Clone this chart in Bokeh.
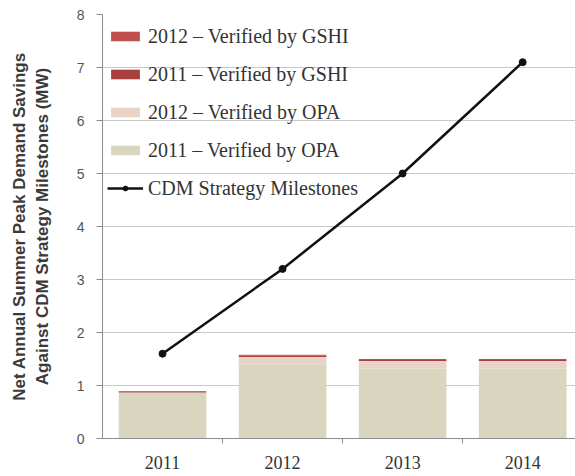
from bokeh.plotting import figure
from bokeh.models import (ColumnDataSource, FixedTicker, Legend, LegendItem, Range1d)
from bokeh.embed import file_html
from bokeh.resources import INLINE

# Net annual summer peak demand savings (MW), stacked by source
years = [2011, 2012, 2013, 2014]
year_labels = ["2011", "2012", "2013", "2014"]
opa_2011 = [0.87, 1.40, 1.32, 1.32]
opa_2012 = [0.0, 0.14, 0.14, 0.14]
gshi_2011 = [0.02, 0.02, 0.02, 0.02]
gshi_2012 = [0.0, 0.02, 0.02, 0.02]
milestones = [1.6, 3.2, 5.0, 7.1]

stack_keys = ["opa_2011", "opa_2012", "gshi_2011", "gshi_2012"]
stack_colors = ["#d9d5be", "#e8d3c6", "#a83f3c", "#c0504d"]
stack_names = ["2011 \u2013 Verified by OPA", "2012 \u2013 Verified by OPA",
               "2011 \u2013 Verified by GSHI", "2012 \u2013 Verified by GSHI"]

src = ColumnDataSource(dict(x=years, opa_2011=opa_2011, opa_2012=opa_2012,
                            gshi_2011=gshi_2011, gshi_2012=gshi_2012,
                            milestones=milestones))

p = figure(width=575, height=476, output_backend="svg", toolbar_location=None,
           x_range=Range1d(2010.5, 2014.44), y_range=Range1d(0, 8),
           min_border_left=102, min_border_right=0, min_border_top=14,
           min_border_bottom=38)
p.outline_line_color = None
p.background_fill_color = "white"
p.border_fill_color = "white"

bars = p.vbar_stack(stack_keys, x="x", width=0.73, source=src,
                    color=stack_colors, line_color=None)

line = p.line("x", "milestones", source=src, line_color="#111111", line_width=2.5)
dots = p.scatter("x", "milestones", source=src, size=7, color="#111111")

legend = Legend(items=[
    LegendItem(label=stack_names[3], renderers=[bars[3]]),
    LegendItem(label=stack_names[2], renderers=[bars[2]]),
    LegendItem(label=stack_names[1], renderers=[bars[1]]),
    LegendItem(label=stack_names[0], renderers=[bars[0]]),
    LegendItem(label="CDM Strategy Milestones", renderers=[line, dots]),
], location=(5, 238))
legend.background_fill_alpha = 0
legend.border_line_color = None
legend.margin = 0
legend.padding = 10
legend.glyph_width = 36
legend.glyph_height = 12
legend.label_height = 24
legend.spacing = 14
legend.label_standoff = 5
legend.label_text_font = "Liberation Serif"
legend.label_text_font_size = "20px"
legend.label_text_color = "#333333"
p.add_layout(legend)

# y axis
p.yaxis.ticker = FixedTicker(ticks=list(range(0, 9)))
p.yaxis.axis_label = "Net Annual Summer Peak Demand Savings\nAgainst CDM Strategy Milestones (MW)"
p.yaxis.axis_label_text_font = "Liberation Sans"
p.yaxis.axis_label_text_font_style = "bold"
p.yaxis.axis_label_text_font_size = "17px"
p.yaxis.axis_label_text_color = "#3a3a3a"
p.yaxis.axis_label_standoff = 22
p.yaxis.major_label_text_font = "Liberation Sans"
p.yaxis.major_label_text_font_size = "14px"
p.yaxis.major_label_text_color = "#555555"
p.yaxis.major_tick_out = 6
p.yaxis.major_tick_in = 0
p.yaxis.minor_tick_out = 0
p.yaxis.minor_tick_in = 0
p.yaxis.axis_line_color = "#8c8c8c"
p.yaxis.major_tick_line_color = "#8c8c8c"
p.yaxis.major_label_standoff = 12

# x axis: labels at bar centres, tick marks between categories
p.xaxis.ticker = FixedTicker(ticks=years, minor_ticks=[2011.5, 2012.5, 2013.5])
p.xaxis.major_label_overrides = {y: s for y, s in zip(years, year_labels)}
p.xaxis.major_label_text_font = "Liberation Serif"
p.xaxis.major_label_text_font_size = "18px"
p.xaxis.major_label_text_color = "#333333"
p.xaxis.major_tick_out = 0
p.xaxis.major_tick_in = 0
p.xaxis.minor_tick_out = 5
p.xaxis.minor_tick_in = 0
p.xaxis.minor_tick_line_color = "#8c8c8c"
p.xaxis.axis_line_color = "#8c8c8c"
p.xaxis.major_label_standoff = 12

p.xgrid.grid_line_color = None
p.ygrid.grid_line_color = "#c8c8c8"
p.ygrid.grid_line_width = 1

open("out.html", "w").write(file_html(p, INLINE))
